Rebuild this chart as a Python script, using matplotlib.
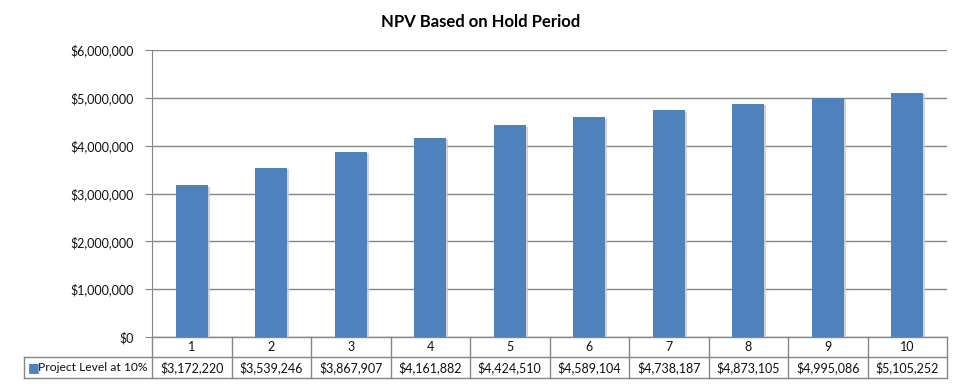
import matplotlib.pyplot as plt
import matplotlib.patheffects as pe
from matplotlib.ticker import FuncFormatter
import matplotlib.transforms as mtransforms

# data
periods = ['1', '2', '3', '4', '5', '6', '7', '8', '9', '10']
npv = [3172220, 3539246, 3867907, 4161882, 4424510,
       4589104, 4738187, 4873105, 4995086, 5105252]
series_name = 'Project Level at 10%'
title = 'NPV Based on Hold Period'

plt.rcParams['font.family'] = ['Lato', 'DejaVu Sans']

W, H = 962, 386
fig = plt.figure(figsize=(W / 100, H / 100), dpi=100)
L, R, T, B = 152, 947, 50, 337
ax = fig.add_axes([L / W, 1 - B / H, (R - L) / W, (B - T) / H])

bar_c = '#4F81BD'
grid_c = '#868686'
txt_c = '#111111'
fs = 9
x = list(range(len(periods)))
ax.bar(x, npv, width=0.4, color=bar_c, zorder=3,
       path_effects=[pe.SimplePatchShadow(offset=(1.5, -1), shadow_rgbFace='#c8c8c8', alpha=0.8), pe.Normal()])

ax.set_xlim(-0.5, len(periods) - 0.5)
ax.set_ylim(0, 6000000)
ax.set_yticks(range(0, 6000001, 1000000))
ax.yaxis.set_major_formatter(FuncFormatter(lambda v, p: '${:,.0f}'.format(v)))
ax.grid(axis='y', color=grid_c, linewidth=1, zorder=0)
ax.set_xticks([])
for s in ['top', 'right', 'bottom']:
    ax.spines[s].set_visible(False)
ax.spines['left'].set_color(grid_c)
ax.tick_params(axis='y', length=5, color=grid_c, labelsize=fs, labelcolor=txt_c, pad=8)

fig.text(0.5, 1 - 22 / H, title, ha='center', va='center', fontsize=12, fontweight='bold')

# data table below the axis
px = lambda p: p / (B - T)  # pixel -> axes fraction (y)
trans = mtransforms.blended_transform_factory(ax.transData, ax.transAxes)
y0, y1, y2 = 0, -px(20), -px(41)
xl = -0.5 - (L - 24) / ((R - L) / len(periods))  # left edge of legend cell in data units
lkw = dict(color=grid_c, linewidth=1, transform=trans, clip_on=False)
ax.plot([-0.5, len(periods) - 0.5], [y0, y0], **lkw)
ax.plot([xl, len(periods) - 0.5], [y1, y1], **lkw)
ax.plot([xl, len(periods) - 0.5], [y2, y2], **lkw)
ax.plot([xl, xl], [y1, y2], **lkw)
for i in range(len(periods) + 1):
    ax.plot([i - 0.5, i - 0.5], [y0, y2], **lkw)
for i, (p, v) in enumerate(zip(periods, npv)):
    ax.text(i, (y0 + y1) / 2, p, transform=trans, ha='center', va='center', fontsize=fs, color=txt_c)
    ax.text(i, (y1 + y2) / 2, '${:,.0f}'.format(v), transform=trans, ha='center', va='center',
            fontsize=fs, color=txt_c)
ax.text(xl + 0.05, (y1 + y2) / 2, '\u25A0', transform=trans, ha='left', va='center',
        fontsize=9, color=bar_c, family=['DejaVu Sans'])
ax.text(xl + 0.18, (y1 + y2) / 2, series_name, transform=trans, ha='left', va='center',
        fontsize=8.7, color=txt_c)

fig.savefig('out.png', dpi=100)
